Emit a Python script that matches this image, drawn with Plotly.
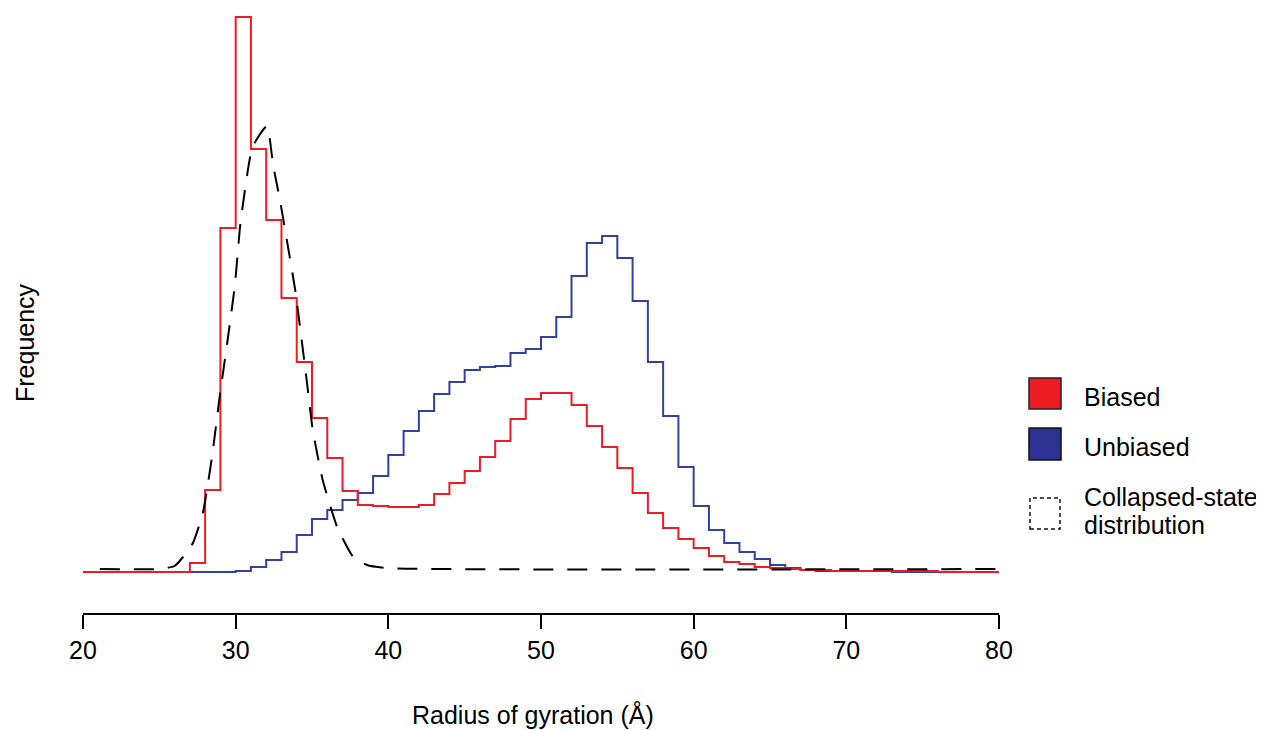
import plotly.graph_objects as go

# Bin edges (1 Å bins from 20 to 80)
bin_starts = list(range(20, 80))

# Biased histogram (arbitrary frequency units), bins 20..79
biased = [0, 0, 0, 0, 0, 0, 0, 9, 82, 344,
          555, 423, 352, 274, 210, 154, 114, 81, 67, 66,
          65, 65, 67, 78, 89, 101, 115, 131, 153, 173,
          179, 179, 167, 146, 125, 104, 79, 59, 44, 33,
          24, 16, 10, 8, 5, 4, 3, 2, 2, 1,
          1, 1, 1, 1, 1, 1, 0, 0, 0, 0]

# Unbiased histogram, bins 20..79
unbiased = [0, 0, 0, 0, 0, 0, 0, 0, 0, 0,
            1, 5, 12, 20, 37, 53, 62, 72, 79, 96,
            117, 141, 161, 178, 190, 202, 205, 206, 219, 223,
            235, 255, 296, 329, 336, 314, 271, 210, 156, 105,
            66, 42, 29, 20, 13, 7, 4, 2, 1, 1,
            1, 1, 1, 0, 0, 0, 0, 0, 0, 0]

# Collapsed-state distribution (dashed curve)
collapsed_x = [21.1, 25.0, 26.0, 26.55, 27.2, 27.85, 28.45, 28.95, 29.5, 29.95,
               30.3, 30.75, 31.1, 32.05, 32.45, 32.9, 33.35, 33.9, 34.65, 35.05,
               35.7, 36.65, 37.7, 38.6, 39.9, 80.0]
collapsed_y = [3, 3, 6, 15, 29, 59, 115, 175, 235, 287,
               347, 397, 425, 446, 407, 372, 332, 282, 192, 142,
               92, 45, 15, 7, 4, 3]

x_ticks = [20, 30, 40, 50, 60, 70, 80]

RED = "#ED1C24"
BLUE = "#2E3192"
BLUE_LINE = "#3440A0"

def step_xy(starts, vals, end):
    return list(starts) + [end], list(vals) + [vals[-1]]

fig = go.Figure()

bx, by = step_xy(bin_starts, unbiased, 80)
fig.add_trace(go.Scatter(x=bx, y=by, mode="lines", line=dict(color=BLUE_LINE, width=2, shape="hv"),
                         name="Unbiased", showlegend=False, hoverinfo="skip"))
rx, ry = step_xy(bin_starts, biased, 80)
fig.add_trace(go.Scatter(x=rx, y=ry, mode="lines", line=dict(color=RED, width=2, shape="hv"),
                         name="Biased", showlegend=False, hoverinfo="skip"))
fig.add_trace(go.Scatter(x=collapsed_x, y=collapsed_y, mode="lines",
                         line=dict(color="black", width=2, dash="20px,14px", shape="spline", smoothing=0.5),
                         name="Collapsed-state distribution", showlegend=False, hoverinfo="skip"))

# page body has an 8px margin: figure occupies page pixels 8..1264, 8..730
OFF = 8
W, H = 1264 - OFF, 730 - OFF
# plot area in page pixels: x 83..999, y 10..613
L, R, T, B = 83 - OFF, 999 - OFF, 10 - OFF, 613 - OFF

def px(xp):
    return (xp - OFF - L) / (R - L)

def py(yp):
    return (B - (yp - OFF)) / (B - T)

FONT = "Arial, Liberation Sans, Helvetica, sans-serif"
FS = 25

shapes = []
# legend boxes
shapes.append(dict(type="rect", xref="paper", yref="paper",
                   x0=px(1029), x1=px(1061), y0=py(409), y1=py(378),
                   fillcolor=RED, line=dict(color="#222222", width=1.5)))
shapes.append(dict(type="rect", xref="paper", yref="paper",
                   x0=px(1029), x1=px(1061), y0=py(460), y1=py(428),
                   fillcolor=BLUE, line=dict(color="#111111", width=1.5)))
shapes.append(dict(type="rect", xref="paper", yref="paper",
                   x0=px(1030), x1=px(1060), y0=py(529), y1=py(498),
                   fillcolor="rgba(0,0,0,0)", line=dict(color="#111111", width=1.5, dash="4px,3px")))

def txt(text, x, y, xanchor="left", angle=0):
    return dict(text=text, xref="paper", yref="paper", x=px(x), y=py(y),
                xanchor=xanchor, yanchor="middle", showarrow=False, textangle=angle,
                font=dict(size=FS, color="black", family=FONT))

annotations = [
    txt("Biased", 1082, 397),
    txt("Unbiased", 1082, 447),
    txt("Collapsed-state", 1082, 497),
    txt("distribution", 1082, 525),
    txt("Radius of gyration (Å)", 533, 714, xanchor="center"),
    txt("Frequency", 25, 343, xanchor="center", angle=-90),
]

fig.update_layout(
    width=W, height=H,
    margin=dict(l=L, r=W - R, t=T, b=H - B),
    paper_bgcolor="white", plot_bgcolor="white",
    shapes=shapes, annotations=annotations,
    xaxis=dict(range=[20, 80], tickvals=x_ticks, ticktext=[str(t) for t in x_ticks],
               showline=True, linecolor="black", linewidth=2, ticks="outside", ticklen=14,
               tickwidth=1.5, tickcolor="black", showgrid=False, zeroline=False,
               tickfont=dict(size=FS, color="black", family=FONT)),
    yaxis=dict(range=[-41, 562], showticklabels=False, showgrid=False, zeroline=False,
               showline=False, ticks=""),
    font=dict(family=FONT, color="black"),
)

fig.write_html("out.html")
